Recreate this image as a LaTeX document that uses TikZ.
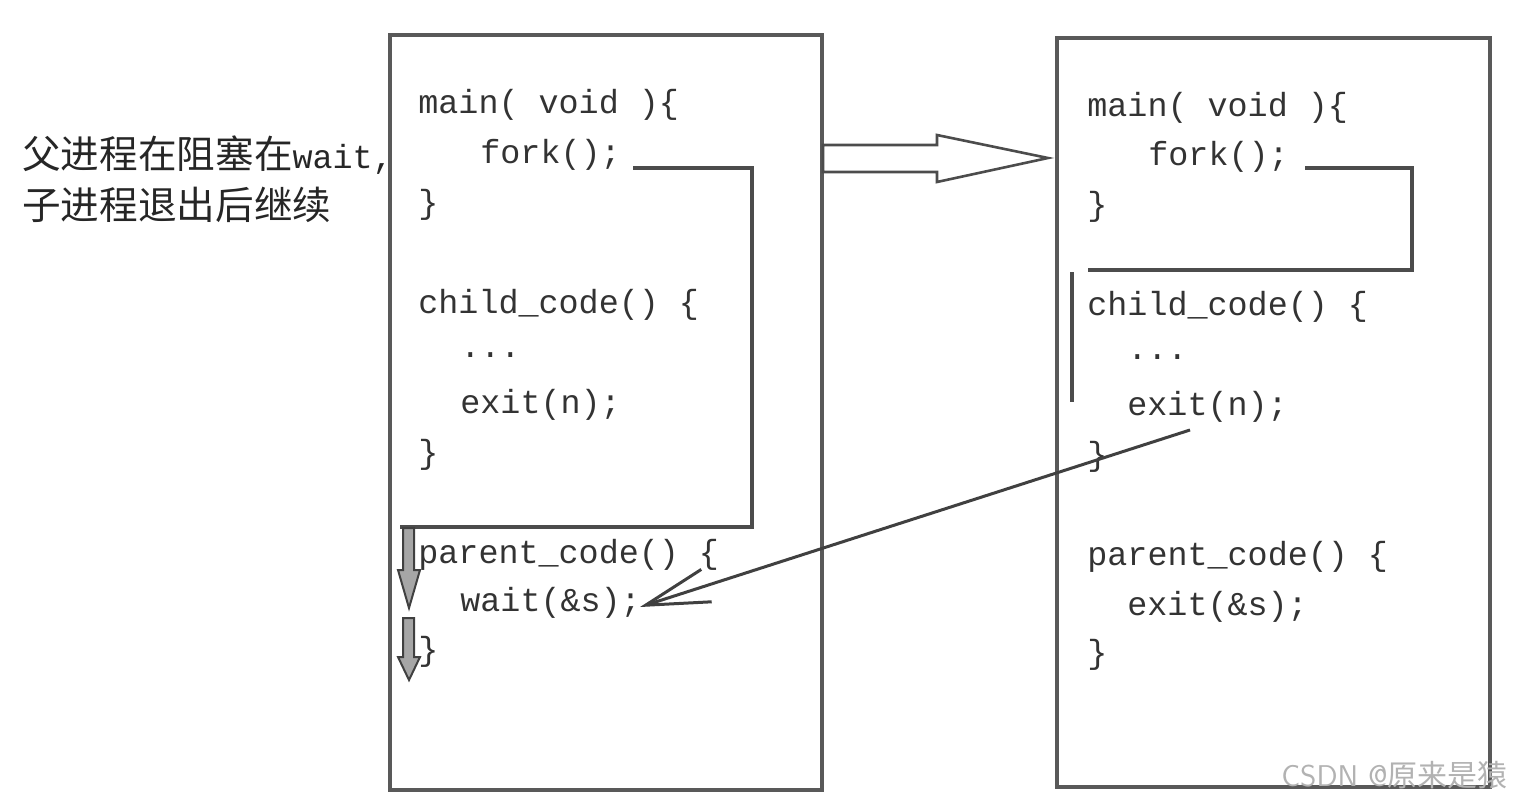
\documentclass[tikz,border=0pt]{standalone}
\usepackage{fontspec}
\setmonofont{Liberation Mono}
\newfontfamily\cjk{Noto Sans CJK SC}
\usetikzlibrary{arrows.meta}
\tikzset{
  code/.style={anchor=west,inner sep=0pt,font=\ttfamily\fontsize{16.7}{20}\selectfont,text=black!80},
  cn/.style={anchor=west,inner sep=0pt,font=\cjk\fontsize{19.3}{22}\selectfont,text=black!85},
  frame/.style={draw=black!65,line width=1.6pt},
  bracket/.style={draw=black!70,line width=2pt},
  blockarrow/.style={draw=black!70,line width=1.3pt,fill=white},
  downarrow/.style={draw=black!75,line width=1pt,fill=black!35},
  thin/.style={draw=black!75,line width=1.5pt}
}
\begin{document}
\begin{tikzpicture}[x=0.5pt,y=-0.5pt]
\useasboundingbox (0,0) rectangle (1514,803);
% frames
\draw[frame] (390,35) rectangle (822,790);
\draw[frame] (1057,38) rectangle (1490,787);
% left side note
\node[cn] (n1) at (22,155) {父进程在阻塞在{\ttfamily\fontsize{16.7}{20}\selectfont wait,}};
\node[cn] (n2) at (22,205) {子进程退出后继续};
% left code
\node[code] (mainL) at (418,105) {main( void )\{};
\node[code] (forkL) at (480,155) {fork();};
\node[code] (c1L) at (418,205) {\}};
\node[code] (childL) at (418,305) {child\_code() \{};
\node[code] (dotsL) at (460,355) {...};
\node[code] (exitL) at (460,405) {exit(n);};
\node[code] (c2L) at (418,455) {\}};
\node[code] (parL) at (418,555) {parent\_code() \{};
\node[code] (waitL) at (460,603) {wait(\&s);};
\node[code] (c3L) at (418,652) {\}};
% right code
\node[code] (mainR) at (1087,108) {main( void )\{};
\node[code] (forkR) at (1148,157) {fork();};
\node[code] (c1R) at (1087,207) {\}};
\node[code] (childR) at (1087,307) {child\_code() \{};
\node[code] (dotsR) at (1127,357) {...};
\node[code] (exitR) at (1127,407) {exit(n);};
\node[code] (c2R) at (1087,457) {\}};
\node[code] (parR) at (1087,557) {parent\_code() \{};
\node[code] (exit2R) at (1127,607) {exit(\&s);};
\node[code] (c3R) at (1087,655) {\}};
% brackets
\coordinate (bL1) at (633,168);
\coordinate (bL2) at (752,527);
\coordinate (bL3) at (400,527);
\draw[bracket] (bL1) -| (bL2) -- (bL3);
\coordinate (bR1) at (1305,168);
\coordinate (bR2) at (1412,270);
\coordinate (bR3) at (1088,270);
\draw[bracket] (bR1) -| (bR2) -- (bR3);
\coordinate (vR1) at (1072,272);
\coordinate (vR2) at (1072,402);
\draw[bracket] (vR1) -- (vR2);
% big block arrow between boxes
\draw[blockarrow] (823,145) -- (937,145) -- (937,135) -- (1048,158) -- (937,182) -- (937,172) -- (823,172) -- cycle;
% small down arrows
\draw[downarrow] (403,528) -- (414,528) -- (414,570) -- (420,570) -- (409,608) -- (398,570) -- (403,570) -- cycle;
\draw[downarrow] (403,618) -- (414,618) -- (414,657) -- (420,657) -- (409,680) -- (398,657) -- (403,657) -- cycle;
% long arrow from child exit to parent wait
\coordinate (exitStart) at (1190,430);
\coordinate (waitEnd) at (640,607);
\draw[thin,-{Straight Barb[length=32pt,width=17pt,line width=1.5pt]}] (exitStart) -- (waitEnd);
% watermark
\node[anchor=east,inner sep=0pt,font=\fontsize{15}{17}\selectfont,text=black!30] (wm) at (1508,775) {\sffamily CSDN @{\cjk 原来是猿}};
\end{tikzpicture}
\end{document}
